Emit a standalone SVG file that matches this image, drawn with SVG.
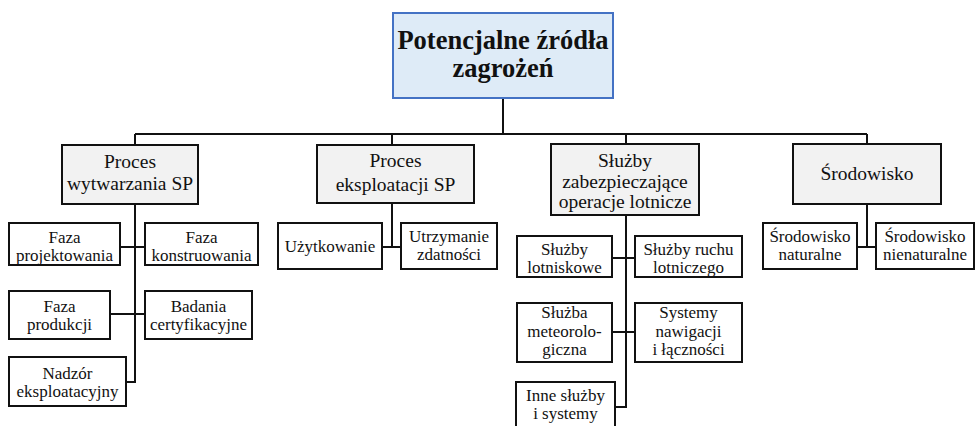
<svg xmlns="http://www.w3.org/2000/svg" width="976" height="426" viewBox="0 0 976 426">
<style>
text{font-family:"Liberation Serif","Times New Roman",serif;fill:#111;text-anchor:middle}
.root rect{fill:#deebf7;stroke:#4472c4;stroke-width:2}
.root text{font-size:26.5px;font-weight:bold}
.l2 rect{fill:#f2f2f2;stroke:#111;stroke-width:2}
.l2 text{font-size:19.5px}
.l3 rect{fill:#fff;stroke:#111;stroke-width:2}
.l3 text{font-size:17px}
.conn path{fill:none;stroke:#111;stroke-width:2}
</style>
<rect width="976" height="426" fill="#fff"/>
<g class="conn" id="connectors">
<path d="M503 98V134M135 134H867M135 134V145M392 134V145M626 134V144M867 134V144"/>
<path d="M135 204V382H126M120 247H145M110 314H145"/>
<path d="M392 203V247M382 247H401"/>
<path d="M626 215V407H615M612 258H635M612 332H635"/>
<path d="M867 204V247M857 247H876"/>
</g>
<g class="root" id="root"><rect x="393" y="13" width="220" height="85"/><text x="503" y="49">Potencjalne źródła</text><text x="503" y="77">zagrożeń</text></g>
<g class="l2" id="wytwarzania"><rect x="62" y="145" width="136" height="59"/><text x="130" y="168">Proces</text><text x="130" y="190">wytwarzania  SP</text></g>
<g class="l2" id="eksploatacji"><rect x="317" y="145" width="157" height="58"/><text x="395.5" y="167">Proces</text><text x="395.5" y="191">eksploatacji  SP</text></g>
<g class="l2" id="sluzby"><rect x="551" y="144" width="148" height="71"/><text x="625" y="167">Służby</text><text x="625" y="188">zabezpieczające</text><text x="625" y="208">operacje lotnicze</text></g>
<g class="l2" id="srodowisko"><rect x="793" y="144" width="148" height="60"/><text x="867" y="180">Środowisko</text></g>
<g class="l3" id="faza-proj"><rect x="9" y="223" width="111" height="42"/><text x="64.5" y="243">Faza</text><text x="64.5" y="261">projektowania</text></g>
<g class="l3" id="faza-konst"><rect x="145" y="223" width="113" height="42"/><text x="201.5" y="243">Faza</text><text x="201.5" y="261">konstruowania</text></g>
<g class="l3" id="faza-prod"><rect x="9" y="291" width="101" height="48"/><text x="59.5" y="312">Faza</text><text x="59.5" y="330">produkcji</text></g>
<g class="l3" id="badania"><rect x="145" y="291" width="107" height="48"/><text x="198.5" y="312">Badania</text><text x="198.5" y="330">certyfikacyjne</text></g>
<g class="l3" id="nadzor"><rect x="9" y="357" width="117" height="49"/><text x="67.5" y="379">Nadzór</text><text x="67.5" y="397">eksploatacyjny</text></g>
<g class="l3" id="uzytkowanie"><rect x="278" y="223" width="104" height="46"/><text x="330" y="252">Użytkowanie</text></g>
<g class="l3" id="utrzymanie"><rect x="401" y="223" width="96" height="46"/><text x="449" y="242">Utrzymanie</text><text x="449" y="260">zdatności</text></g>
<g class="l3" id="lotniskowe"><rect x="517" y="236" width="95" height="41"/><text x="564.5" y="255">Służby</text><text x="564.5" y="273">lotniskowe</text></g>
<g class="l3" id="ruchu"><rect x="635" y="236" width="107" height="41"/><text x="688.5" y="255">Służby ruchu</text><text x="688.5" y="273">lotniczego</text></g>
<g class="l3" id="meteo"><rect x="517" y="303" width="95" height="59"/><text x="564.5" y="318">Służba</text><text x="564.5" y="337">meteorolo-</text><text x="564.5" y="355">giczna</text></g>
<g class="l3" id="systemy"><rect x="635" y="303" width="107" height="59"/><text x="688.5" y="318">Systemy</text><text x="688.5" y="337">nawigacji</text><text x="688.5" y="355">i łączności</text></g>
<g class="l3" id="inne"><rect x="516" y="382" width="99" height="52"/><text x="565.5" y="401">Inne służby</text><text x="565.5" y="419">i systemy</text></g>
<g class="l3" id="sr-nat"><rect x="763" y="223" width="94" height="46"/><text x="810" y="242">Środowisko</text><text x="810" y="260">naturalne</text></g>
<g class="l3" id="sr-nienat"><rect x="876" y="223" width="98" height="46"/><text x="925" y="242">Środowisko</text><text x="925" y="260">nienaturalne</text></g>
</svg>
